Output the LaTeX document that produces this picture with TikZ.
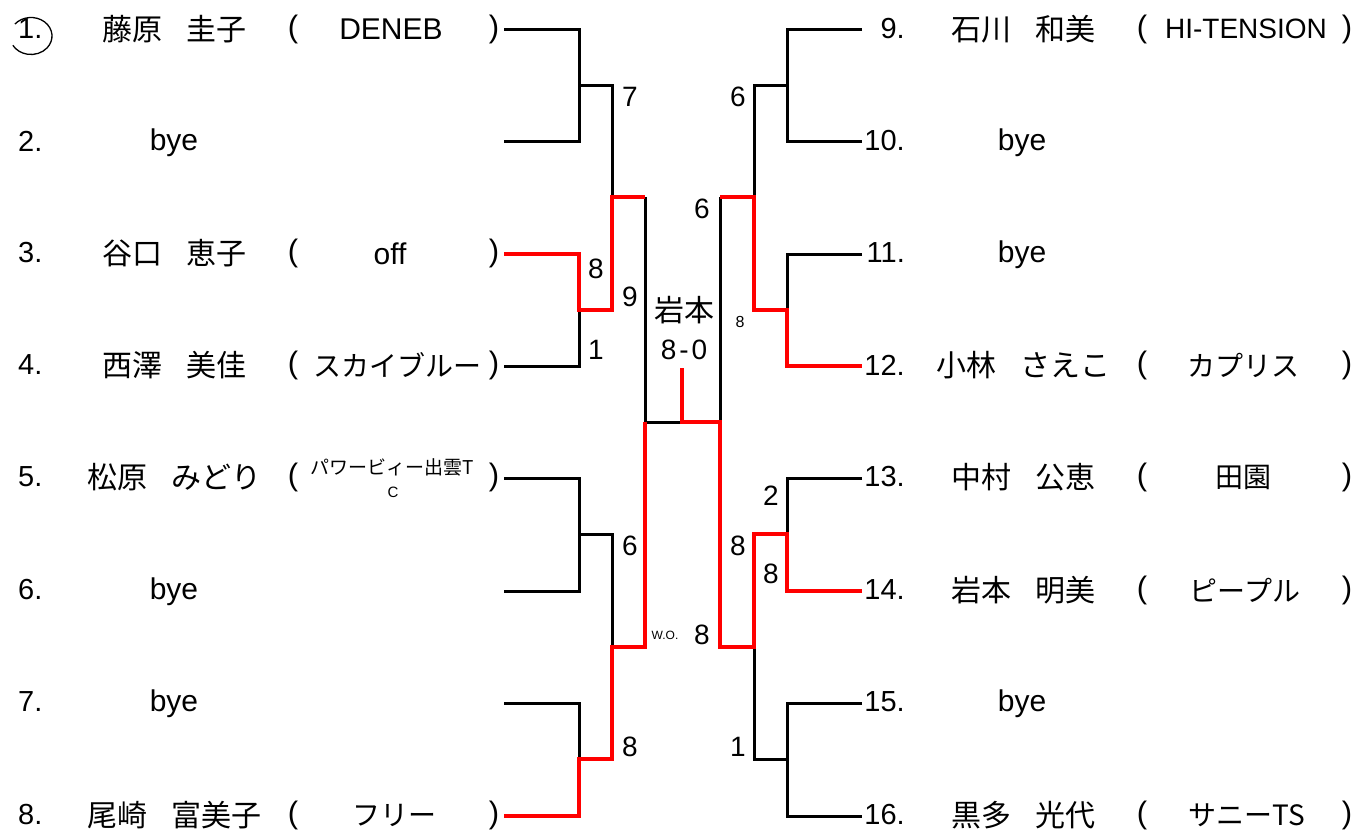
\documentclass[tikz,border=0pt]{standalone}
\usepackage{fontspec}
\setmainfont{Liberation Sans}
\newfontfamily\jp{Noto Sans CJK JP}
\newcommand{\gp}{\hspace{0.8em}}
\begin{document}
\begin{tikzpicture}[x=1pt,y=-1pt,
  bl/.style={line width=3pt,draw=black},
  rd/.style={line width=4.5pt,draw=red},
  num/.style={inner sep=0pt,font=\fontsize{29}{32}\selectfont},
  lat/.style={inner sep=0pt,font=\fontsize{30}{34}\selectfont},
  jpn/.style={inner sep=0pt,font=\jp\fontsize{30}{34}\selectfont},
  jpt/.style={inner sep=0pt,font=\jp\fontsize{28}{32}\selectfont},
  paren/.style={inner sep=0pt,font=\fontsize{31}{34}\selectfont},
  score/.style={inner sep=0pt,font=\fontsize{28}{32}\selectfont},
  tiny/.style={inner sep=0pt,font=\fontsize{12}{14}\selectfont},
]
\useasboundingbox (0,0) rectangle (1355,832);
% ---------- coordinates ----------
\foreach \i/\y in {1/30,2/142,3/254,4/366,5/478,6/591,7/703,8/816}
  \coordinate (P\i) at (504,\y);
\foreach \i/\y in {9/30,10/142,11/254,12/366,13/478,14/591,15/703,16/816}
  \coordinate (Q\i) at (862,\y);
\coordinate (R1a) at (579,86);  \coordinate (R1b) at (579,310);
\coordinate (R1c) at (579,534); \coordinate (R1d) at (579,759);
\coordinate (R2a) at (612,197); \coordinate (R2b) at (612,647);
\coordinate (SLt) at (645,197); \coordinate (SLb) at (645,647);
\coordinate (SL) at (645,422);
\coordinate (S1a) at (787,86);  \coordinate (S1b) at (787,310);
\coordinate (S1c) at (787,534); \coordinate (S1d) at (787,759);
\coordinate (S2a) at (754,197); \coordinate (S2b) at (754,647);
\coordinate (SRt) at (720,197); \coordinate (SRb) at (720,647);
\coordinate (SR) at (720,422);
\coordinate (F) at (682,422); \coordinate (Ftop) at (682,368);
% ---------- black lines ----------
\draw[bl] (P1) -| (R1a) |- (P2);
\draw[bl] (R1a) -| (R2a);
\draw[bl] (P4) -| (R1b);
\draw[bl] (P5) -| (R1c) |- (P6);
\draw[bl] (R1c) -| (R2b);
\draw[bl] (P7) -| (R1d);
\draw[bl] (SLt) -- (SL) -- (F);
\draw[bl] (Q9) -| (S1a) |- (Q10);
\draw[bl] (S1a) -| (S2a);
\draw[bl] (Q11) -| (S1b);
\draw[bl] (Q13) -| (S1c);
\draw[bl] (S2b) |- (S1d);
\draw[bl] (Q15) -| (S1d) |- (Q16);
\draw[bl] (SRt) -- (SR);
% ---------- red lines ----------
\draw[rd] (P3) -| (R1b) -| (R2a) -- (SLt);
\draw[rd] (P8) -| (R1d) -| (R2b) -- (SLb) -- (SL);
\draw[rd] (Ftop) -- (F) -- (SR) -- (SRb) -- (S2b) |- (S1c) |- (Q14);
\draw[rd] (SRt) -- (S2a) |- (S1b) |- (Q12);
% ---------- circle round 1. ----------
\draw[line width=1.3pt] (31,36) ++(-140:21 and 18.5) arc[start angle=-140,end angle=150,x radius=21,y radius=18.5];
% ---------- left labels ----------
\node[num,anchor=west] (n1) at (18,29) {1.};
\node[num,anchor=west] (n2) at (18,141) {2.};
\node[num,anchor=west] (n3) at (18,253) {3.};
\node[num,anchor=west] (n4) at (18,365) {4.};
\node[num,anchor=west] (n5) at (18,477) {5.};
\node[num,anchor=west] (n6) at (18,590) {6.};
\node[num,anchor=west] (n7) at (18,702) {7.};
\node[num,anchor=west] (n8) at (18,815) {8.};
\node[jpn] (a1) at (174,29) {藤原\gp 圭子};
\node[lat] (a2) at (174,143) {bye};
\node[jpn] (a3) at (174,253) {谷口\gp 恵子};
\node[jpn] (a4) at (174,365) {西澤\gp 美佳};
\node[jpn] (a5) at (174,477) {松原\gp みどり};
\node[lat] (a6) at (174,592) {bye};
\node[lat] (a7) at (174,704) {bye};
\node[jpn] (a8) at (174,815) {尾崎\gp 富美子};
\foreach \r/\y in {1/29,3/253,4/365,5/477,8/815}{
  \node[paren] (lo\r) at (293,\y) {(};
  \node[paren] (lc\r) at (494,\y) {)};
}
\node[lat] (t1) at (391,29) {DENEB};
\node[lat] (t3) at (390,254) {off};
\node[jpt] (t4) at (397,365) {スカイブルー};
\node[inner sep=0pt,font=\jp\fontsize{19}{21}\selectfont] (t5) at (392,467) {パワービィー出雲T};
\node[inner sep=0pt,font=\fontsize{15}{17}\selectfont] (t5b) at (393,492) {C};
\node[jpt] (t8) at (394,815) {フリー};
% ---------- right labels ----------
\node[num,anchor=east] (n9) at (905,29) {9.};
\node[num,anchor=east] (n10) at (905,141) {10.};
\node[num,anchor=east] (n11) at (905,253) {11.};
\node[num,anchor=east] (n12) at (905,365) {12.};
\node[num,anchor=east] (n13) at (905,477) {13.};
\node[num,anchor=east] (n14) at (905,590) {14.};
\node[num,anchor=east] (n15) at (905,702) {15.};
\node[num,anchor=east] (n16) at (905,815) {16.};
\node[jpn] (b9) at (1023,29) {石川\gp 和美};
\node[lat] (b10) at (1022,143) {bye};
\node[lat] (b11) at (1022,255) {bye};
\node[jpn] (b12) at (1023,365) {小林\gp さえこ};
\node[jpn] (b13) at (1023,477) {中村\gp 公恵};
\node[jpn] (b14) at (1023,590) {岩本\gp 明美};
\node[lat] (b15) at (1022,704) {bye};
\node[jpn] (b16) at (1023,815) {黒多\gp 光代};
\foreach \r/\y in {9/29,12/365,13/477,14/590,16/815}{
  \node[paren] (ro\r) at (1142,\y) {(};
  \node[paren] (rc\r) at (1347,\y) {)};
}
\node[inner sep=0pt,font=\fontsize{28}{30}\selectfont] (u9) at (1246,29) {HI-TENSION};
\node[jpt] (u12) at (1243,365) {カプリス};
\node[jpt] (u13) at (1243,477) {田園};
\node[jpt] (u14) at (1245,590) {ピープル};
\node[jpt] (u16) at (1247,815) {サニーTS};
% ---------- scores ----------
\node[score] (s1) at (630,97) {7};
\node[score] (s2) at (596,269) {8};
\node[score] (s3) at (630,297) {9};
\node[score] (s4) at (596,350) {1};
\node[score] (s5) at (630,546) {6};
\node[score] (s6) at (630,747) {8};
\node[tiny] (s7) at (665,635) {W.O.};
\node[score] (s8) at (702,635) {8};
\node[score] (s9) at (738,97) {6};
\node[score] (s10) at (702,209) {6};
\node[inner sep=0pt,font=\fontsize{16}{18}\selectfont] (s11) at (740,322) {8};
\node[score] (s12) at (771,496) {2};
\node[score] (s13) at (738,546) {8};
\node[score] (s14) at (771,574) {8};
\node[score] (s15) at (738,747) {1};
\node[jpn] (w1) at (684,310) {岩本};
\node[score] (w2) at (684,350) {8\kern3pt-\kern3pt0};
\end{tikzpicture}
\end{document}
